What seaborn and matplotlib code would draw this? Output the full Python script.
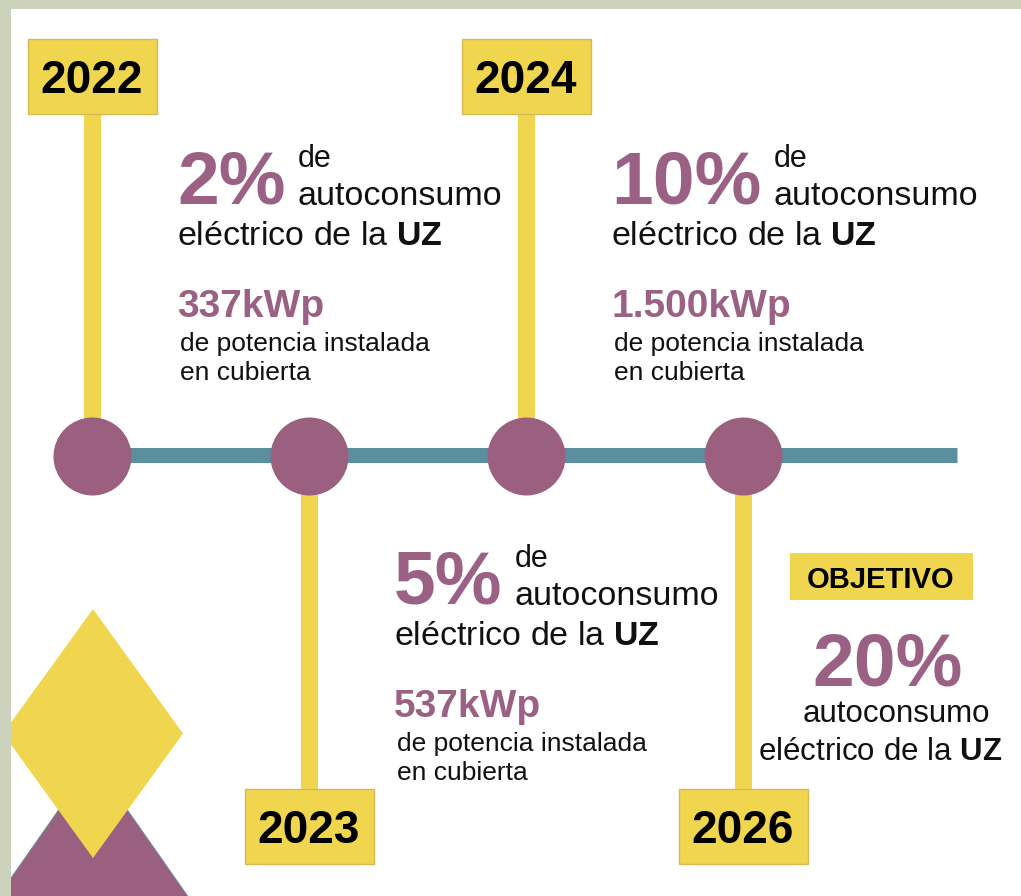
import numpy as np
import pandas as pd
import seaborn as sns
import matplotlib.pyplot as plt
from matplotlib.patches import Rectangle, Polygon

# timeline data
years = ['2022', '2023', '2024', '2026']
percent = [2, 5, 10, 20]
kwp = ['337', '537', '1.500', '']
side = ['up', 'down', 'up', 'down']
goal = [False, False, False, True]

# colours
PURPLE = '#9B5F80'
PURPLE_TXT = '#9A6184'
YELLOW = '#F0D54F'
YELLOW_EDGE = '#D3BA57'
TEAL = '#5C8F9E'
FRAME = '#CDD2BC'
INK = '#111111'

sns.set_style('white')
plt.rcParams['font.family'] = ['Liberation Sans', 'DejaVu Sans']
plt.rcParams['mathtext.fontset'] = 'custom'
plt.rcParams['mathtext.rm'] = 'Liberation Sans'
plt.rcParams['mathtext.bf'] = 'Liberation Sans:bold'

W, H = 1021, 896
fig = plt.figure(figsize=(W / 100, H / 100), dpi=100)
ax = fig.add_axes([0, 0, 1, 1])

df = pd.DataFrame({'year': years, 'pct': percent, 'kwp': kwp,
                   'side': side, 'goal': goal})
LINE_Y = 456
df['x'] = 92 + df.index * 217
df['y'] = LINE_Y

PX = 0.72  # points per pixel at dpi 100

##### decorative shapes bottom left
ax.add_patch(Polygon([(93, 761), (93 + 0.70 * 220, 981), (93 - 0.70 * 220, 981)],
                     closed=True, fc=PURPLE, ec='#6F8796', lw=0.8, zorder=1))
ax.add_patch(Polygon([(93, 609), (183, 733.5), (93, 858), (3, 733.5)],
                     closed=True, fc=YELLOW, ec='none', zorder=2))

##### stems, timeline, circles
for _, r in df.iterrows():
    if r.side == 'up':
        ax.vlines(r.x, 114, LINE_Y, color=YELLOW, lw=17 * PX, zorder=1)
    else:
        ax.vlines(r.x, LINE_Y, 789, color=YELLOW, lw=17 * PX, zorder=1)

ax.hlines(LINE_Y - 1, df.x.iloc[0], 957, color=TEAL, lw=15 * PX, zorder=2)

sns.scatterplot(data=df, x='x', y='y', s=(78 * PX) ** 2, color=PURPLE,
                linewidth=0, zorder=3, legend=False, ax=ax)

##### year boxes
for _, r in df.iterrows():
    top = 39 if r.side == 'up' else 789
    ax.add_patch(Rectangle((r.x - 64.5, top), 129, 75, fc=YELLOW,
                           ec=YELLOW_EDGE, lw=1, zorder=4))
    ax.text(r.x, top + 54, r.year, ha='center', va='baseline', size=33,
            weight='bold', color='black', zorder=5)

##### text blocks
fig.canvas.draw()
renderer = fig.canvas.get_renderer()

for _, r in df.iterrows():
    if r.goal:
        cx = r.x + 140
        ax.add_patch(Rectangle((r.x + 47, 553), 183, 47, fc=YELLOW,
                               ec='none', zorder=4))
        ax.text(r.x + 138, 588, 'OBJETIVO', ha='center', va='baseline',
                size=21, weight='bold', color='black', zorder=5)
        ax.text(cx + 5, 685, f'{r.pct}%', ha='center', va='baseline',
                size=54, weight='bold', color=PURPLE_TXT)
        ax.text(cx + 13, 722, 'autoconsumo', ha='center', va='baseline',
                size=22.5, color=INK)
        ax.text(cx - 3, 760, r'eléctrico de la $\mathbf{UZ}$', ha='center',
                va='baseline', size=22.5, color=INK)
        continue

    bx = r.x + 85
    base = 203 if r.side == 'up' else 603
    t = ax.text(bx, base, f'{r.pct}%', ha='left', va='baseline', size=54,
                weight='bold', color=PURPLE_TXT)
    tx = bx + t.get_window_extent(renderer).width + 12
    ax.text(tx, base - 36, 'de', ha='left', va='baseline', size=22, color=INK)
    ax.text(tx, base + 2, 'autoconsumo', ha='left', va='baseline',
            size=24.5, color=INK)
    ax.text(bx, base + 42, r'eléctrico de la $\mathbf{UZ}$', ha='left',
            va='baseline', size=24.5, color=INK)
    ax.text(bx, base + 114, f'{r.kwp}kWp', ha='left', va='baseline',
            size=28, weight='bold', color=PURPLE_TXT)
    ax.text(bx + 3, base + 148, 'de potencia instalada', ha='left',
            va='baseline', size=19, color=INK)
    ax.text(bx + 3, base + 177, 'en cubierta', ha='left', va='baseline',
            size=19, color=INK)

##### frame
ax.add_patch(Rectangle((0, 0), 11, H, fc=FRAME, ec='none', zorder=10))
ax.add_patch(Rectangle((0, 0), W, 9, fc=FRAME, ec='none', zorder=10))

ax.set_xlim(0, W)
ax.set_ylim(H, 0)
ax.axis('off')

plt.savefig('out.png', dpi=100)
